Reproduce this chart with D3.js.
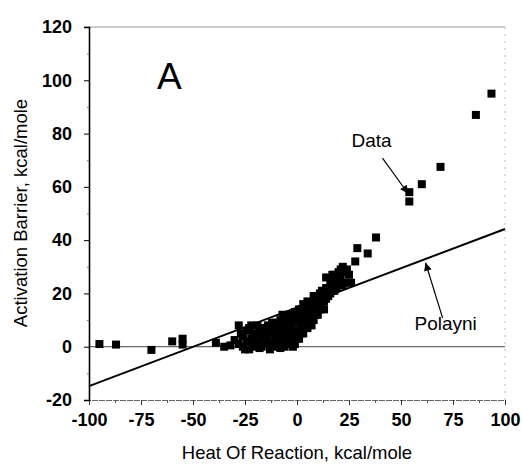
<!DOCTYPE html>
<html>
<head>
<meta charset="utf-8">
<script src="https://cdn.jsdelivr.net/npm/d3@7"></script>
<style>
  body { margin: 0; background: #fff; }
  svg { font-family: "Liberation Sans", Arial, sans-serif; }
  .tick text { font-weight: bold; font-size: 18px; fill: #000; }
</style>
</head>
<body>
<div id="chart"></div>
<script>
// heat of reaction (kcal/mole) vs activation barrier (kcal/mole)
var dataX = [-95, -87, -70, -60, -55, -55,
  -39, -35, -32, -30, -28, -28, -26, -25, -24, -23, -22, -22, -21, -20, -20, -19, -18, -18,
  -17, -16, -15, -15, -14, -13, -13, -12, -11, -11, -10, -10, -9, -8, -8, -7, -7, -6, -6,
  -5, -5, -4, -4, -3, -2, -2, -1, -1, 0, 0, 1, 1, 2, 2, 3, 3, 4, 4, 5, 5, 6, 6, 7, 8, 8,
  9, 10, 10, 11, 12, 13, 14, 14, 15, 16, 17, 17, 18, 19, 20, 21, 22, 23, 24, 25, 26, 28, 29, 34, 38,
  -27, -26, -24, -23, -21, -19, -17, -16, -14, -13, -12, -12, -9, -9, -8, -7, -6, -5, -4, -3, -3,
  -2, -1, 0, 0, 1, 2, 2, 3, 3, 4, 5, 5, 6, 7, 7, 8, 8, 9, 9, 10, 11, 11, 12, 12, 13, 13, 14,
  15, 16, 17, 18, 18, 19, 20, 21, 22, 23,
  54, 54, 60, 69, 86, 93.5];
var dataY = [1, 0.8, -1.2, 2, 3, 0.8,
  1.5, 0, 0.5, 2.5, 8, 1, 4, -1, 2, 7, 8, 3, 0, 5, 1, 8, 6, -0.5,
  3, 7, 1, 4, 8, 2, -1, 5, 0, 7, 3, 9, 1, 6, 10, 3, 12, 0, 8,
  5, 10, 2, 12, 7, 4, 10, 1, 13, 6, 9, 3, 14, 8, 11, 5, 16, 10, 13, 7, 17, 9, 15, 11, 13, 19,
  16, 12, 18, 20, 15, 17, 22, 26, 19, 24, 21, 27, 25, 22, 28, 26, 30, 24, 29, 27, 24, 32, 37, 35, 41,
  5, 0, 6, -1, 4, 2, 0, 4, 1, 6, 9, 2, 4, 8, -0.5, 7, 4, 1, 8, 3, 11,
  0, 6, 3, 12, 10, 5, 14, 8, 12, 7, 11, 14, 12, 15, 8, 10, 16, 12, 19, 15, 14, 17, 18, 21, 14, 20, 18,
  22, 20, 24, 21, 27, 26, 24, 29, 23, 28,
  58, 54.5, 61, 67.5, 87, 95];

// Polayni relation
var polayniX = [-100, 100];
var polayniY = [-14.8, 44.2];

var xTicks = [-100, -75, -50, -25, 0, 25, 50, 75, 100];
var yTicks = [-20, 0, 20, 40, 60, 80, 100, 120];

var width = 522, height = 464;
var margin = { top: 27, right: 17, bottom: 64, left: 89 };

var svg = d3.select("#chart").append("svg")
  .attr("width", width)
  .attr("height", height);

var xScale = d3.scaleLinear().domain([-100, 100]).range([margin.left, width - margin.right]);
var yScale = d3.scaleLinear().domain([-20, 120]).range([height - margin.bottom, margin.top]);

var x0 = xScale(-100), x1 = xScale(100), y0 = yScale(-20), y1 = yScale(120);
var fmt = function (d) { return String(d); }; // plain hyphen minus like the original

// frame: faint top and right edges
svg.append("line").attr("x1", x0 - 5).attr("x2", x1).attr("y1", y1).attr("y2", y1)
  .attr("stroke", "#999").attr("stroke-width", 1);
svg.append("line").attr("x1", x1).attr("x2", x1).attr("y1", y1).attr("y2", y0)
  .attr("stroke", "#bbb").attr("stroke-width", 1).attr("stroke-dasharray", "2,5");

// zero line
svg.append("line").attr("x1", x0).attr("x2", x1).attr("y1", yScale(0)).attr("y2", yScale(0))
  .attr("stroke", "#444").attr("stroke-width", 1);

// x axis
var xAxis = svg.append("g")
  .attr("transform", "translate(0," + y0 + ")")
  .call(d3.axisBottom(xScale).tickValues(xTicks).tickSize(5).tickPadding(8).tickFormat(fmt));
xAxis.select(".domain").attr("stroke", "#666").attr("stroke-dasharray", "6,1");
xAxis.selectAll(".tick line").attr("stroke", "#333");
svg.append("g")
  .attr("transform", "translate(0," + y0 + ")")
  .call(d3.axisBottom(xScale).tickValues(d3.range(-87.5, 100, 25)).tickSize(3).tickFormat(""))
  .call(function (g) { g.select(".domain").remove(); g.selectAll("line").attr("stroke", "#555"); });

// y axis
var yAxis = svg.append("g")
  .attr("transform", "translate(" + x0 + ",0)")
  .call(d3.axisLeft(yScale).tickValues(yTicks).tickSize(5).tickPadding(12).tickFormat(fmt));
yAxis.select(".domain").attr("stroke", "#000").attr("stroke-width", 1.6);
svg.append("g")
  .attr("transform", "translate(" + x0 + ",0)")
  .call(d3.axisLeft(yScale).tickValues(d3.range(-10, 120, 20)).tickSize(2).tickFormat(""))
  .call(function (g) { g.select(".domain").remove(); g.selectAll("line").attr("stroke", "#777"); });

// axis titles
svg.append("text")
  .attr("x", xScale(0))
  .attr("y", 459)
  .attr("text-anchor", "middle")
  .style("font-size", "18.5px")
  .text("Heat Of Reaction, kcal/mole");

svg.append("text")
  .attr("transform", "translate(27," + 213 + ") rotate(-90)")
  .attr("text-anchor", "middle")
  .style("font-size", "18.5px")
  .text("Activation Barrier, kcal/mole");

// Polayni line
var line = d3.line()
  .x(function (d) { return xScale(d[0]); })
  .y(function (d) { return yScale(d[1]); });
svg.append("path")
  .datum(d3.zip(polayniX, polayniY))
  .attr("fill", "none")
  .attr("stroke", "#000")
  .attr("stroke-width", 2)
  .attr("d", line);

// data points
var size = 8;
svg.append("g").selectAll("rect")
  .data(d3.zip(dataX, dataY))
  .enter().append("rect")
  .attr("x", function (d) { return xScale(d[0]) - size / 2; })
  .attr("y", function (d) { return yScale(d[1]) - size / 2; })
  .attr("width", size)
  .attr("height", size)
  .attr("fill", "#000");

// arrow marker
svg.append("defs").append("marker")
  .attr("id", "arrow")
  .attr("viewBox", "0 0 10 10")
  .attr("refX", 10).attr("refY", 5)
  .attr("markerWidth", 12).attr("markerHeight", 8)
  .attr("markerUnits", "userSpaceOnUse")
  .attr("orient", "auto")
  .append("path").attr("d", "M0,0 L10,5 L0,10 z").attr("fill", "#000");

// annotations
svg.append("text")
  .attr("x", xScale(-67.3)).attr("y", yScale(96.6))
  .style("font-size", "37px")
  .text("A");

svg.append("text")
  .attr("x", xScale(26.2)).attr("y", yScale(75))
  .style("font-size", "19px")
  .text("Data");
svg.append("line")
  .attr("x1", xScale(41.1)).attr("y1", yScale(70.8))
  .attr("x2", xScale(53.4)).attr("y2", yScale(57.5))
  .attr("stroke", "#000").attr("stroke-width", 1.2)
  .attr("marker-end", "url(#arrow)");

svg.append("text")
  .attr("x", xScale(56.5)).attr("y", yScale(6.3))
  .style("font-size", "19px")
  .text("Polayni");
svg.append("line")
  .attr("x1", xScale(70)).attr("y1", yScale(10.8))
  .attr("x2", xScale(61.8)).attr("y2", yScale(31.5))
  .attr("stroke", "#000").attr("stroke-width", 1.2)
  .attr("marker-end", "url(#arrow)");
</script>
</body>
</html>
